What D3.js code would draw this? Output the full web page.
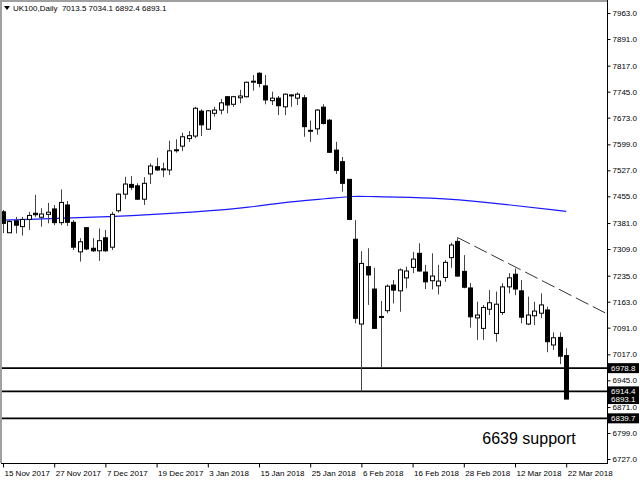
<!DOCTYPE html>
<html><head><meta charset="utf-8">
<script src="https://cdn.jsdelivr.net/npm/d3@7"></script>
<style>body{margin:0;background:#fff}svg{display:block}text{font-family:"Liberation Sans",Arial,sans-serif}</style>
</head><body><svg id="c" width="640" height="480"></svg>
<script>
// OHLC per daily bar, bar 0 = 15 Nov 2017, bar 88 = 22 Mar 2018
const open  = [7412,7354,7387,7371,7391,7408,7397,7405,7420,7382,7431,7383,7301,7368,7311,7304,7340,7314,7415,7461,7488,7484,7447,7517,7537,7531,7528,7582,7594,7615,7622,7691,7641,7685,7694,7731,7710,7728,7731,7772,7796,7761,7720,7727,7703,7734,7727,7728,7638,7642,7702,7666,7583,7551,7502,7336,7101,7260,7198,7120,7138,7209,7193,7229,7258,7297,7245,7221,7207,7230,7285,7330,7247,7201,7118,7089,7142,7075,7133,7204,7239,7193,7101,7124,7131,7140,7043,7064,7013.5];
const high  = [7417,7389,7398,7398,7412,7459,7422,7437,7431,7474,7442,7389,7339,7370,7339,7366,7362,7412,7463,7509,7511,7491,7508,7546,7562,7548,7609,7613,7631,7636,7703,7696,7694,7703,7725,7733,7733,7750,7773,7791,7799,7791,7745,7733,7740,7738,7743,7736,7665,7697,7710,7669,7606,7564,7503,7389,7303,7311,7257,7165,7211,7223,7255,7260,7301,7325,7265,7297,7265,7278,7326,7339,7292,7215,7163,7154,7195,7191,7214,7242,7255,7223,7177,7163,7186,7149,7078,7078,7034.1];
const low   = [7353,7353,7352,7346,7362,7398,7371,7380,7375,7375,7373,7306,7274,7306,7301,7276,7301,7306,7410,7447,7472,7445,7431,7489,7525,7508,7514,7576,7580,7606,7616,7622,7639,7676,7682,7685,7703,7713,7729,7748,7757,7710,7708,7680,7680,7703,7708,7620,7606,7626,7654,7575,7517,7468,7389,7103,6914.4,7154,7088,6978.8,7131,7158,7135,7200,7242,7246,7198,7197,7183,7218,7257,7232,7200,7091,7057,7057,7126,7052,7126,7186,7181,7103,7098,7098,7117,7023,7029,6990,6892.4];
const close = [7380,7385,7375,7391,7402,7404,7406,7411,7382,7438,7383,7314,7329,7309,7304,7332,7304,7405,7461,7489,7480,7447,7491,7539,7528,7529,7581,7584,7620,7623,7699,7653,7692,7694,7714,7708,7731,7733,7771,7774,7768,7722,7727,7706,7738,7736,7738,7648,7636,7694,7657,7577,7527,7491,7391,7117,7269,7237,7089,7122,7206,7195,7251,7248,7281,7248,7218,7234,7220,7272,7320,7234,7203,7121,7126,7147,7160,7156,7204,7229,7198,7120,7126,7137,7154,7052,7063,7012,6893.1];

const xTickIndex  = [0,8,16,24,32,40,48,56,64,72,80,88];
const xTickLabels = ["15 Nov 2017","27 Nov 2017","7 Dec 2017","19 Dec 2017","3 Jan 2018","15 Jan 2018","25 Jan 2018","6 Feb 2018","16 Feb 2018","28 Feb 2018","12 Mar 2018","22 Mar 2018"];
const yTicks = [7963,7891,7817,7745,7673,7599,7527,7455,7381,7309,7235,7163,7091,7017,6945,6871,6799,6727];

// moving average read at selected bars
const maIndex = [0,17,31,39,43,51,55,57,67,76,88];
const maValue = [7389,7398,7412,7425,7437,7449,7456,7454,7452,7438,7413];

const levels = [6978.8,6914.4,6839.7];
const lastPrice = 6893.1;
const trendIndex = [71,94.2];
const trendPrice = [7341,7131];
const headerText = "UK100,Daily  7013.5 7034.1 6892.4 6893.1";
const noteText = "6639 support";

const svg = d3.select("#c");
const L = 1, R = 607, T = 1, B = 463;
const x = d3.scaleLinear().domain([0,88]).range([3,566.2]);
const y = d3.scaleLinear().domain([6727,7963]).range([459,13]);

svg.append("defs").append("clipPath").attr("id","clip")
  .append("rect").attr("x",L+1).attr("y",T+1).attr("width",R-L-1).attr("height",B-T-1);

// frame
svg.append("line").attr("x1",1).attr("x2",1).attr("y1",0).attr("y2",B).attr("stroke","#a0a0a0").attr("stroke-width",2);
svg.append("line").attr("x1",0).attr("x2",R).attr("y1",1).attr("y2",1).attr("stroke","#a0a0a0").attr("stroke-width",2);

const g = svg.append("g").attr("clip-path","url(#clip)");

// MA
g.append("path").datum(maIndex.map((d,i)=>[d,maValue[i]]))
  .attr("fill","none").attr("stroke","#1a1aff").attr("stroke-width",1.2)
  .attr("d", d3.line().x(d=>x(d[0])).y(d=>y(d[1])).curve(d3.curveBasis));

// levels
levels.forEach(v=>{
  g.append("line").attr("x1",L).attr("x2",R).attr("y1",y(v)).attr("y2",y(v))
   .attr("stroke","#000").attr("stroke-width",1.6);
});

// trend line
g.append("line").attr("x1",x(trendIndex[0])).attr("y1",y(trendPrice[0]))
  .attr("x2",x(trendIndex[1])).attr("y2",y(trendPrice[1]))
  .attr("stroke","#333").attr("stroke-width",1).attr("stroke-dasharray","14,5");

// candles
const bars = open.map((o,i)=>({i,o,h:high[i],l:low[i],c:close[i]}));
const cg = g.selectAll("g.c").data(bars).join("g");
cg.append("line").attr("x1",d=>Math.round(x(d.i))+0.5).attr("x2",d=>Math.round(x(d.i))+0.5)
  .attr("y1",d=>y(d.h)).attr("y2",d=>y(d.l)).attr("stroke","#444").attr("stroke-width",1);
cg.append("rect").attr("x",d=>Math.round(x(d.i))-1.5).attr("width",4)
  .attr("y",d=>y(Math.max(d.o,d.c))).attr("height",d=>Math.max(1,Math.abs(y(d.o)-y(d.c))))
  .attr("fill",d=>d.c>=d.o?"#fff":"#000").attr("stroke","#000").attr("stroke-width",1);

// right axis
svg.append("line").attr("x1",R+0.5).attr("x2",R+0.5).attr("y1",0).attr("y2",B+1).attr("stroke","#000");
const ya = svg.append("g").attr("transform",`translate(${R+0.5},0)`)
  .call(d3.axisRight(y).tickValues(yTicks).tickFormat(d3.format(".1f")).tickSize(3).tickPadding(2));
ya.select(".domain").remove();
ya.selectAll("text").attr("font-size",8).attr("fill","#000").style("font-family","Liberation Sans, Arial");
ya.selectAll("line").attr("stroke","#000");

// bottom axis
svg.append("line").attr("x1",L).attr("x2",R+1).attr("y1",B+0.5).attr("y2",B+0.5).attr("stroke","#000");
const xa = svg.append("g").attr("transform",`translate(0,${B+0.5})`)
  .call(d3.axisBottom(x).tickValues(xTickIndex).tickFormat((d,i)=>xTickLabels[i]).tickSize(4).tickPadding(3));
xa.select(".domain").remove();
xa.selectAll("text").attr("font-size",8).attr("fill","#000").attr("text-anchor","start").attr("dx",1)
  .style("font-family","Liberation Sans, Arial");
xa.selectAll("line").attr("stroke","#000");

// price boxes
levels.concat([lastPrice]).forEach(v=>{
  svg.append("rect").attr("x",R+1).attr("y",y(v)-5).attr("width",31).attr("height",10).attr("fill","#000");
  svg.append("text").attr("x",R+4).attr("y",y(v)+3).attr("font-size",8).attr("fill","#fff").text(v.toFixed(1));
});

// header
svg.append("path").attr("d","M4,6 L10,6 L7,10 Z").attr("fill","#000");
svg.append("text").attr("x",13).attr("y",11).attr("font-size",8).attr("fill","#000").text(headerText).style("white-space","pre").attr("xml:space","preserve");

// note
svg.append("text").attr("x",529).attr("y",444).attr("text-anchor","middle").attr("font-size",16).attr("fill","#000").text(noteText);
</script></body></html>
